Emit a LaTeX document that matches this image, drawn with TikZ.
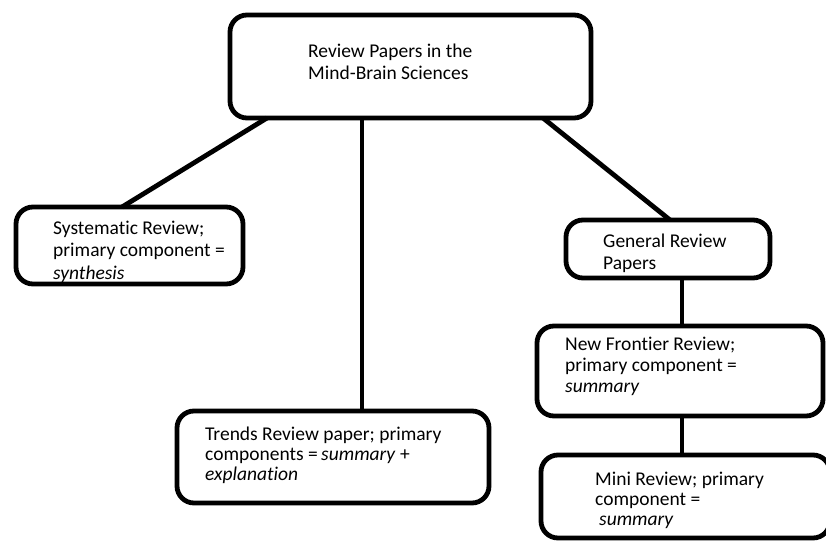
\documentclass[tikz,border=0pt]{standalone}
\usepackage{fontspec}
\setmainfont{Carlito}[Ligatures={NoCommon}]
\usetikzlibrary{positioning}

\begin{document}
\begin{tikzpicture}[x=1pt, y=-1pt,
		box/.style={draw, line width=4.8pt, rounded corners=17pt, outer sep=0pt, inner sep=0pt},
		txt/.style={anchor=base west, align=left, inner sep=0pt, font=\fontsize{19.5}{22}\selectfont}]
					\useasboundingbox (0,0) rectangle (826,540);
					\clip (0,0) rectangle (826,540);
					
					% boxes
					\node[box, minimum width=361pt, minimum height=103pt] (top) at (410.5,66.5) {};
					\node[box, minimum width=227pt, minimum height=77pt] (sys) at (129.5,245.5) {};
					\node[box, minimum width=312pt, minimum height=92pt] (trends) at (333,457) {};
					\node[box, minimum width=204pt, minimum height=58pt] (gen) at (668,249) {};
					\node[box, minimum width=286pt, minimum height=90pt] (nf) at (680,371) {};
					\node[box, minimum width=289pt, minimum height=83pt] (mini) at (685.5,496.5) {};
					
					% texts (placed at the baseline of their last line)
					\node[txt] (toptxt) at (308,80) {Review Papers in the\\Mind-Brain Sciences};
					\node[txt, font=\fontsize{19.5}{22.5}\selectfont] (systxt) at (53,279) {Systematic Review;\\primary component =\\\textit{synthesis}};
					\node[txt, font=\fontsize{19.5}{20}\selectfont] (trendstxt) at (205,480) {Trends Review paper; primary\\components =\,\textit{summary} +\\\textit{explanation}};
					\node[txt] (gentxt) at (603,269) {General Review\\Papers};
					\node[txt, font=\fontsize{19.5}{21}\selectfont] (nftxt) at (565,392) {New Frontier Review;\\primary component =\\\textit{summary}};
					\node[txt, font=\fontsize{19.5}{20}\selectfont] (minitxt) at (595,525) {Mini Review; primary\\component =\\\hspace{4pt}\textit{summary}};
					
					\draw[line width=4.8pt]
					([xshift=-143.5pt]top.south) edge[-] ([xshift=-7.5pt]sys.north)
					([xshift=-48.5pt]top.south) edge[-] ([xshift=29pt]trends.north)
					([xshift=132.5pt]top.south) edge[-] ([xshift=2pt]gen.north)
					([xshift=14pt]gen.south) edge[-] ([xshift=2pt]nf.north)
					([xshift=2pt]nf.south) edge[-] ([xshift=-3.5pt]mini.north);
				\end{tikzpicture}
\end{document}
